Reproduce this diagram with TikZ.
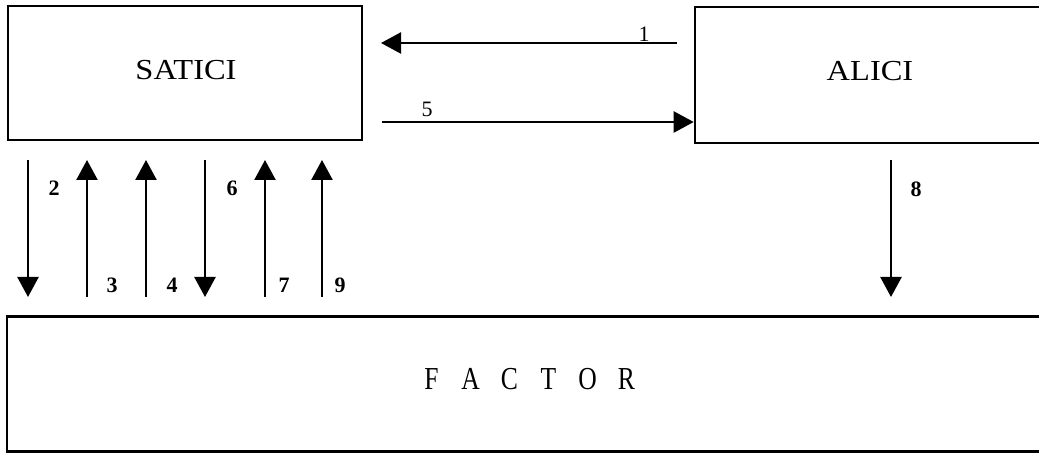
\documentclass[tikz,border=0pt]{standalone}
\usepackage{fontspec}
\setmainfont{Liberation Serif}
\usetikzlibrary{arrows.meta}
\newcommand{\wtxt}[2]{\scalebox{#1}[1]{#2}}
\newcommand{\fl}[1]{\makebox[39pt]{\scalebox{0.8}[1]{#1}}}
\begin{document}
\begin{tikzpicture}[x=1pt,y=-1pt,
  box/.style={draw=black, line width=2.6pt, inner sep=0pt},
  arr/.style={line width=2.4pt, -{Triangle[width=21pt,length=20pt]}},
  lbl/.style={font=\fontsize{22pt}{24pt}\selectfont, inner sep=0pt},
  blbl/.style={font=\fontsize{22pt}{24pt}\selectfont\bfseries, inner sep=0pt},
  boxtext/.style={font=\fontsize{29pt}{31pt}\selectfont, inner sep=0pt}]
\clip (0,0) rectangle (1039,454);
\fill[white] (0,0) rectangle (1039,454);
% boxes
\node[box, minimum width=354pt, minimum height=134pt] (satici) at (185,73) {};
\node[box, minimum width=360pt, minimum height=136pt] (alici) at (875,75) {};
\node[box, minimum width=1050pt, minimum height=135pt] (factor) at (532,384) {};
\node[boxtext] (tsat) at (186,70) {\wtxt{1.12}{SATICI}};
\node[boxtext] (tali) at (870,71) {\wtxt{1.12}{ALICI}};
\node[font=\fontsize{32pt}{34pt}\selectfont, inner sep=0pt] (tfac) at (529,379) {\fl{F}\fl{A}\fl{C}\fl{T}\fl{O}\fl{R}};
% horizontal arrows
\coordinate (a1s) at (677,43);
\coordinate (a1e) at (381,43);
\draw[arr] (a1s) -- (a1e);
\coordinate (a5s) at (382,122);
\draw[arr] (a5s) -- (alici.west |- a5s);
\node[lbl] (l1) at (644,34) {1};
\node[lbl] (l5) at (427,109) {5};
% vertical arrows
\foreach \n/\x in {2/28,3/87,4/146,6/205,7/265,9/322,8/891}{
  \coordinate (v\n t) at (\x,160);
  \coordinate (v\n b) at (\x,297);
}
\draw[arr] (v2t) -- (v2b);
\draw[arr] (v3b) -- (v3t);
\draw[arr] (v4b) -- (v4t);
\draw[arr] (v6t) -- (v6b);
\draw[arr] (v7b) -- (v7t);
\draw[arr] (v9b) -- (v9t);
\draw[arr] (v8t) -- (v8b);
\node[blbl] (l2) at (54,188) {2};
\node[blbl] (l3) at (112,285) {3};
\node[blbl] (l4) at (172,285) {4};
\node[blbl] (l6) at (232,188) {6};
\node[blbl] (l7) at (284,285) {7};
\node[blbl] (l9) at (340,285) {9};
\node[blbl] (l8) at (916,189) {8};
\end{tikzpicture}
\end{document}
